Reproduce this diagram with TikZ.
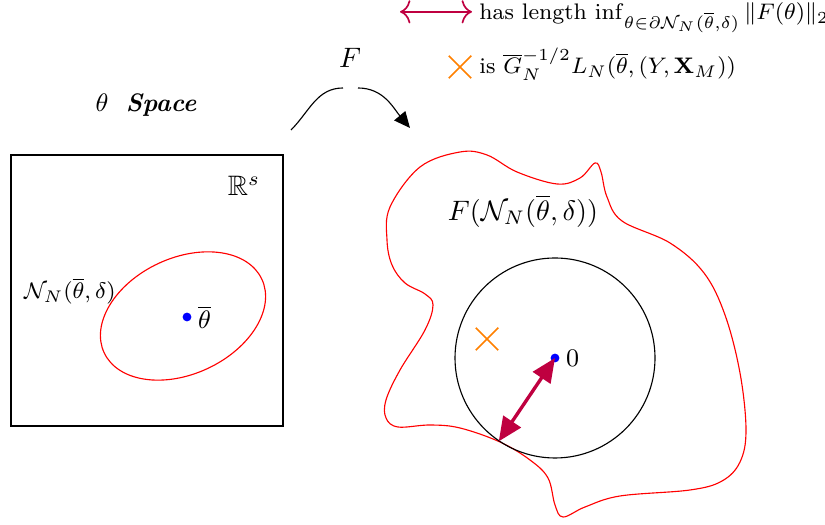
\documentclass[tikz,border=0pt]{standalone}
\usepackage{amsmath,amssymb}
\usetikzlibrary{arrows.meta,shapes.misc}

\tikzset{
  dot/.style={circle, fill=blue, inner sep=0pt, minimum size=1.1mm},
  xmark/.style={cross out, draw=orange, semithick, inner sep=0pt, minimum size=2.6mm},
  region/.style={red, thin},
  lbl/.style={font=\small},
  legtext/.style={font=\footnotesize, anchor=base west, inner sep=0pt}
}

\begin{document}
\begin{tikzpicture}[scale=0.5]
  \useasboundingbox (0,0) rectangle (20.625,13.125);
  % Legend
  \coordinate (la) at (10,12.83);
  \coordinate (lb) at (11.8,12.83);
  \draw[purple, semithick, {Computer Modern Rightarrow[length=1.3mm,width=2.9mm]}-{Computer Modern Rightarrow[length=1.3mm,width=2.9mm]}] (la) -- (lb);
  \node[legtext] (leg1) at (11.97,12.625) {has length $\inf_{\theta\in\partial\mathcal{N}_N(\overline{\theta},\delta)}\|F(\theta)\|_2$};
  \node[xmark] (lx) at (11.5,11.45) {};
  \node[legtext] (leg2) at (11.97,11.275) {is $\overline{G}_N^{-1/2}L_N(\overline{\theta},(Y,\mathbf{X}_M))$};
  % Parameter space
  \node[lbl] (title) at (3.65,10.5) {$\theta$\ \ \textbf{\textit{Space}}};
  \draw (0.275,2.475) rectangle (7.075,9.25);
  \node (Rs) at (6.1,8.475) {$\mathbb{R}^s$};
  \draw[region, rotate around={25:(4.575,5.225)}] (4.575,5.225) ellipse (2.175 and 1.45);
  \node[dot] (tb) at (4.675,5.2) {};
  \node[lbl, right, inner sep=2pt] (tbl) at (tb.east) {$\overline{\theta}$};
  \node[font=\footnotesize] (nbhd) at (1.75,5.85) {$\mathcal{N}_N(\overline{\theta},\delta)$};
  % The map F
  \coordinate (Fa) at (7.275,9.875);
  \coordinate (Fb) at (8.575,10.925);
  \coordinate (Fc) at (8.95,10.925);
  \coordinate (Fd) at (10.25,9.925);
  \draw (Fa) to[out=45,in=180] (Fb);
  \draw[-{Triangle[length=2mm,width=1.8mm]}] (Fc) to[out=0,in=130] (Fd);
  \node (F) at (8.75,11.675) {$F$};
  % Image of the neighbourhood
  \draw[region] plot[smooth cycle, tension=0.6] coordinates {
    (9.75,7.95) (10.5,8.95) (11.5,9.325) (12.175,9.25) (12.925,8.825)
    (13.925,8.525) (14.5,8.675) (14.875,9.05) (15.025,8.825) (15.175,8.2)
    (15.55,7.6) (16.75,7.05) (17.6,6.3) (18.125,5.25) (18.5,3.8)
    (18.65,2.375) (18.5,1.575) (18.05,1.1) (17.25,0.875) (15.5,0.725)
    (14.625,0.45) (14.075,0.2) (13.875,0.5) (13.7,1.175) (13.25,1.625)
    (12.5,2.075) (11.5,2.425) (10.75,2.5) (9.95,2.45) (9.65,2.675)
    (9.65,3.125) (10.0,3.875) (10.625,4.875) (10.825,5.5) (10.625,5.775)
    (10.125,6.05) (9.8,6.5) (9.675,7.125)};
  \node (img) at (13.075,7.85) {$F(\mathcal{N}_N(\overline{\theta},\delta))$};
  \node[circle, draw, minimum size=2.5cm, inner sep=0pt] (ball) at (13.875,4.175) {};
  \node[dot] (zero) at (ball.center) {};
  \node[lbl, right, inner sep=2pt] (zl) at (zero.east) {$0$};
  \node[xmark] (G) at (12.175,4.65) {};
  \draw[purple, very thick, {Triangle[length=3mm,width=2.6mm]}-{Triangle[length=3mm,width=2.6mm]}] (zero.center) -- (ball.236);
\end{tikzpicture}
\end{document}
